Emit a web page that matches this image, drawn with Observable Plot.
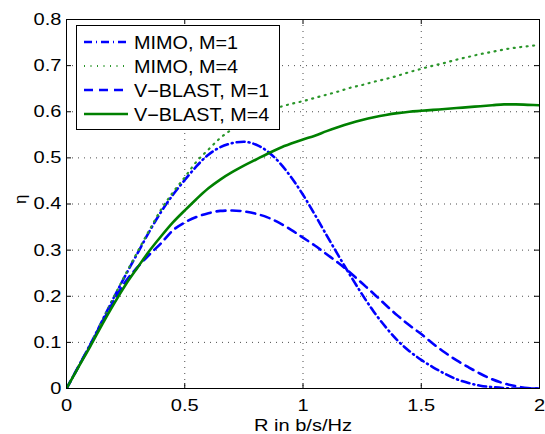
<!DOCTYPE html>
<html><head><meta charset="utf-8">
<script src="https://cdn.jsdelivr.net/npm/d3@7"></script>
<script src="https://cdn.jsdelivr.net/npm/@observablehq/plot@0.6"></script>
<style>body{margin:0;background:#fff}</style>
</head><body><div id="chart"></div>
<script>
// ---- data ----
const R = [0,0.05,0.1,0.15,0.2,0.25,0.3,0.35,0.4,0.45,0.5,0.55,0.6,0.65,0.7,0.75,0.8,0.85,0.9,0.95,1.0,
  1.05,1.1,1.15,1.2,1.25,1.3,1.35,1.4,1.45,1.5,1.55,1.6,1.65,1.7,1.75,1.8,1.85,1.9,1.95,2.0];
const mimoM1 = [0,0.047,0.095,0.146,0.197,0.246,0.293,0.340,0.383,0.420,0.452,0.482,0.507,0.523,0.532,0.535,0.529,0.514,0.490,0.458,0.420,
  0.377,0.332,0.288,0.245,0.204,0.166,0.133,0.104,0.081,0.062,0.046,0.032,0.020,0.012,0.006,0.003,0.001,0,0,0];
const mimoM4 = [0,0.047,0.095,0.146,0.198,0.248,0.296,0.343,0.388,0.425,0.458,0.492,0.518,0.543,0.562,0.577,0.590,0.601,0.610,0.617,0.623,
  0.630,0.637,0.644,0.652,0.658,0.665,0.671,0.678,0.686,0.693,0.700,0.706,0.713,0.719,0.725,0.730,0.735,0.739,0.742,0.745];
const vblastM1 = [0,0.047,0.094,0.142,0.190,0.232,0.263,0.290,0.315,0.343,0.360,0.372,0.380,0.385,0.386,0.384,0.379,0.371,0.359,0.344,0.327,
  0.310,0.291,0.272,0.251,0.228,0.205,0.181,0.158,0.137,0.118,0.097,0.078,0.061,0.046,0.032,0.020,0.011,0.005,0.001,0];
const vblastM4 = [0,0.046,0.091,0.138,0.183,0.225,0.262,0.298,0.330,0.360,0.386,0.411,0.434,0.453,0.469,0.483,0.496,0.509,0.521,0.531,0.540,
  0.548,0.558,0.567,0.575,0.582,0.588,0.593,0.597,0.600,0.602,0.604,0.606,0.608,0.610,0.612,0.614,0.616,0.616,0.615,0.614];
const seriesNames = ["MIMO, M=1", "MIMO, M=4", "V\u2212BLAST, M=1", "V\u2212BLAST, M=4"];
const xTicks = [0, 0.5, 1, 1.5, 2];
const yTicks = [0, 0.1, 0.2, 0.3, 0.4, 0.5, 0.6, 0.7, 0.8];
const xLabel = "R in b/s/Hz";
const yLabel = "\u03b7";

// ---- styles ----
const seriesValues = [mimoM1, mimoM4, vblastM1, vblastM4];
const styles = [
  {stroke: "#0000ff", strokeWidth: 2.6, strokeDasharray: "8,4,1,4"},
  {stroke: "#2a962a", strokeWidth: 2.2, strokeDasharray: "1,5.5"},
  {stroke: "#0000ff", strokeWidth: 2.6, strokeDasharray: "9,6"},
  {stroke: "#008000", strokeWidth: 2.6, strokeDasharray: null}
];

const W = 545, H = 434, ml = 66, mr = 6, mt = 19, mb = 46;
const innerW = W - ml - mr, innerH = H - mt - mb;
const fmt = d => String(+d.toFixed(1));
const FONT = "'Liberation Sans', Arial, Helvetica, sans-serif";

const lineMarks = seriesValues.map((vals, k) => {
  const data = R.map((r, i) => ({R: r, eta: vals[i], name: seriesNames[k]}));
  const s = styles[k];
  const opts = {x: "R", y: "eta", stroke: s.stroke, strokeWidth: s.strokeWidth, curve: "monotone-x", clip: true};
  if (s.strokeDasharray) opts.strokeDasharray = s.strokeDasharray;
  return Plot.line(data, opts);
});

const gridStyle = {stroke: "#000", strokeOpacity: 0.7, strokeWidth: 1, strokeDasharray: "1,5"};

const chart = Plot.plot({
  width: W, height: H,
  marginLeft: ml, marginRight: mr, marginTop: mt, marginBottom: mb,
  style: {fontFamily: FONT, fontSize: "17px", background: "white", color: "black"},
  x: {domain: [0, 2]},
  y: {domain: [0, 0.8]},
  marks: [
    Plot.gridX(xTicks, gridStyle),
    Plot.gridY(yTicks, gridStyle),
    ...lineMarks,
    Plot.tickX(xTicks, {x: d => d, insetTop: innerH - 5, stroke: "black"}),
    Plot.tickX(xTicks, {x: d => d, insetBottom: innerH - 5, stroke: "black"}),
    Plot.tickY(yTicks, {y: d => d, insetRight: innerW - 5, stroke: "black"}),
    Plot.tickY(yTicks, {y: d => d, insetLeft: innerW - 5, stroke: "black"}),
    Plot.frame({stroke: "black"}),
    Plot.axisX(xTicks, {tickSize: 0, tickPadding: 10, label: null, tickFormat: fmt, fontSize: 17}),
    Plot.axisY(yTicks, {tickSize: 0, tickPadding: 5, label: null, tickFormat: fmt, fontSize: 17}),
    Plot.text([xLabel], {frameAnchor: "bottom", dy: 42, lineAnchor: "bottom", text: d => d, fontSize: 17}),
    Plot.text([yLabel], {frameAnchor: "left", dx: -46, rotate: -90, text: d => d, fontSize: 17})
  ]
});
document.getElementById("chart").appendChild(chart);

// horizontal stretch of text (reference glyphs are wider) via textLength
function stretch(nodes, sx) {
  nodes.forEach(t => {
    const w = t.getComputedTextLength();
    if (w > 0) {
      t.setAttribute("textLength", (w * sx).toFixed(2));
      t.setAttribute("lengthAdjust", "spacingAndGlyphs");
    }
  });
}
const tickTexts = Array.from(chart.querySelectorAll("text")).filter(t => {
  const s = t.textContent.trim();
  return s === xLabel || xTicks.map(fmt).includes(s) || yTicks.map(fmt).includes(s);
});
stretch(tickTexts, 1.18);

// ---- legend ----
const svg = d3.select(chart);
const lg = svg.append("g").attr("font-family", FONT).attr("font-size", 18).attr("text-anchor", "start");
lg.append("rect").attr("x", 76.5).attr("y", 25.5).attr("width", 203).attr("height", 104)
  .attr("fill", "white").attr("stroke", "black").attr("stroke-width", 1);
seriesNames.forEach((name, i) => {
  const cy = 42 + i * 24;
  const s = styles[i];
  const ln = lg.append("line").attr("x1", 84).attr("x2", 128).attr("y1", cy).attr("y2", cy)
    .attr("stroke", s.stroke).attr("stroke-width", s.strokeWidth);
  if (s.strokeDasharray) ln.attr("stroke-dasharray", s.strokeDasharray);
  lg.append("text").attr("x", 134).attr("y", cy + 6.5).attr("fill", "black").attr("text-anchor", "start").text(name);
});
stretch(lg.selectAll("text").nodes(), 1.1);
</script>
</body></html>
